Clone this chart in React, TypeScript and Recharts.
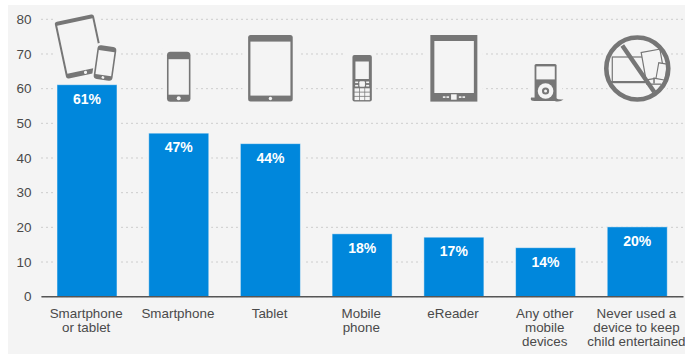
import React from "react";
import { BarChart, Bar, CartesianGrid, LabelList, XAxis, YAxis } from "recharts";

const categories = [
  "Smartphone\nor tablet",
  "Smartphone",
  "Tablet",
  "Mobile\nphone",
  "eReader",
  "Any other\nmobile\ndevices",
  "Never used a\ndevice to keep\nchild entertained",
];
const shares = [61, 47, 44, 18, 17, 14, 20];
const yTicks = [0, 10, 20, 30, 40, 50, 60, 70, 80];
const iconKinds = ["both", "phone", "tablet", "feature", "reader", "player", "none"];

const rows = categories.map((name, i) => ({ name, share: shares[i], icon: iconKinds[i] }));

const PANEL = "#f4f4f4";
const BLUE = "#0087dc";
const ICON = "#767676";
const FONT = "'Liberation Sans', Arial, sans-serif";

function PhoneBody({ w, h }: { w: number; h: number }) {
  // Centred on the origin, used alone and beside the tablet.
  return (
    <g>
      <rect x={-w / 2} y={-h / 2} width={w} height={h} rx={3.5} fill={ICON} />
      <rect x={-w / 2 + 1.6} y={-h / 2 + h * 0.15} width={w - 3.2} height={h * 0.71} fill={PANEL} />
      <circle cx={0} cy={h / 2 - h * 0.07} r={h * 0.04} fill={PANEL} />
    </g>
  );
}

function DeviceIcon({ kind, cx }: { kind: string; cx: number }) {
  if (kind === "both") {
    return (
      <g transform={`translate(${cx} 0)`}>
        <rect x={-34} y={10} width={47} height={15} fill={PANEL} />
        <rect x={-34} y={25} width={65} height={59} fill={PANEL} />
        <g transform="translate(-7 46.5) rotate(-12)">
          <rect x={-20} y={-29} width={40} height={58} rx={2.5} fill={ICON} />
          <rect x={-18} y={-25} width={36} height={49} fill={PANEL} />
          <circle cx={0} cy={26.5} r={1.6} fill={PANEL} />
        </g>
        <g transform="translate(18 63) rotate(8)">
          <rect x={-11} y={-19} width={22} height={38} rx={3} fill={PANEL} />
          <PhoneBody w={19} h={34} />
        </g>
      </g>
    );
  }
  if (kind === "phone") {
    return (
      <g transform={`translate(${cx} 76.7)`}>
        <rect x={-16} y={-28} width={32} height={56} fill={PANEL} />
        <PhoneBody w={23.5} h={50} />
      </g>
    );
  }
  if (kind === "tablet") {
    return (
      <g transform={`translate(${cx} 68.3)`}>
        <rect x={-28} y={-36} width={56} height={72} fill={PANEL} />
        <rect x={-22.3} y={-33.3} width={44.6} height={66.6} rx={2.5} fill={ICON} />
        <rect x={-20} y={-26.7} width={40} height={54} fill={PANEL} />
        <circle cx={0} cy={30.2} r={1.7} fill={PANEL} />
      </g>
    );
  }
  if (kind === "feature") {
    const keys = [0, 1, 2].flatMap((c) => [0, 1, 2].map((r) => [c, r]));
    return (
      <g transform={`translate(${cx} 78.3)`}>
        <rect x={-17} y={-26} width={28} height={52} fill={PANEL} />
        <rect x={-9.7} y={-23.3} width={19.4} height={46.6} rx={2} fill={ICON} />
        <rect x={-6.7} y={-16.8} width={13.4} height={17.5} fill={PANEL} />
        <rect x={-2.8} y={3} width={5.6} height={5.5} rx={1} fill={PANEL} />
        <rect x={-7} y={3.2} width={3} height={1.6} fill={PANEL} />
        <rect x={4} y={3.2} width={3} height={1.6} fill={PANEL} />
        <rect x={-7} y={6.6} width={3} height={1.6} fill={PANEL} />
        <rect x={4} y={6.6} width={3} height={1.6} fill={PANEL} />
        {keys.map(([c, r]) => (
          <rect key={`${c}-${r}`} x={-7.6 + c * 5.3} y={10 + r * 4.2} width={4.6} height={3.4} fill={PANEL} />
        ))}
      </g>
    );
  }
  if (kind === "reader") {
    return (
      <g transform={`translate(${cx} 68.3)`}>
        <rect x={-29} y={-36} width={58} height={72} fill={PANEL} />
        <rect x={-23.5} y={-33.3} width={47} height={66.6} fill={ICON} />
        <rect x={-19.5} y={-27.3} width={39.5} height={52} fill={PANEL} />
        <rect x={-2.8} y={26} width={5.6} height={5.4} fill={PANEL} />
        <rect x={-11} y={28} width={2.6} height={1.6} fill={PANEL} />
        <rect x={-7.4} y={28} width={2.6} height={1.6} fill={PANEL} />
        <rect x={5} y={28} width={2.6} height={1.6} fill={PANEL} />
        <rect x={8.6} y={28} width={2.6} height={1.6} fill={PANEL} />
      </g>
    );
  }
  if (kind === "player") {
    return (
      <g transform={`translate(${cx} 82)`}>
        <rect x={-17.5} y={-16} width={34} height={36} fill={PANEL} />
        <path d="M -14.5 15.5 Q -16 19 -11 19 L 9 19 Q 14 20.5 18 17.5 Q 13 18 10 16 Z" fill={ICON} />
        <rect x={-11} y={-18} width={22} height={36} rx={1.5} fill={ICON} />
        <rect x={-9.2} y={-15.6} width={18.4} height={13} fill={PANEL} />
        <circle cx={0} cy={9} r={7.8} fill={PANEL} />
        <circle cx={0} cy={9} r={3.6} fill={ICON} />
        <circle cx={0} cy={9} r={1.5} fill={PANEL} />
      </g>
    );
  }
  return (
    <g transform={`translate(${cx} 68.5)`}>
      <circle r={36} fill={PANEL} />
      <rect x={-25} y={-11.5} width={33} height={25} fill="none" stroke={ICON} strokeWidth={1.2} />
      <rect x={-27} y={12.5} width={36} height={2.2} fill={ICON} />
      <g transform="rotate(-10 16 -5)">
        <rect x={6} y={-18} width={19} height={28} fill={PANEL} stroke={ICON} strokeWidth={1.2} />
      </g>
      <rect x={16} y={9} width={1.5} height={6} fill={ICON} />
      <rect x={9} y={15} width={15} height={1.3} fill={ICON} />
      <g transform="rotate(10 25 3)">
        <rect x={20} y={-5} width={9} height={16} fill={PANEL} stroke={ICON} strokeWidth={1.1} />
      </g>
      <line x1={-15} y1={-23} x2={17} y2={23.5} stroke={ICON} strokeWidth={4.4} />
      <circle r={31} fill="none" stroke={ICON} strokeWidth={4.6} />
    </g>
  );
}

function IconLabel(props: any) {
  const { x, width, value } = props;
  return <DeviceIcon kind={value} cx={x + width / 2} />;
}

// The pale keyline keeps the dotted rules from touching the bar edges.
function HaloBar(props: any) {
  const { x, y, width, height } = props;
  return (
    <g>
      <rect x={x - 3} y={y} width={width + 6} height={height} fill={PANEL} />
      <rect x={x - 0.5} y={y - 0.5} width={width + 1} height={height + 0.5} fill="#7cc0ec" />
      <rect x={x} y={y} width={width} height={height} fill={BLUE} />
    </g>
  );
}

function CategoryTick(props: any) {
  const { x, y, payload } = props;
  const lines = String(payload.value).split("\n");
  const labelX = x - 1.2;
  return (
    <text x={labelX} y={y} textAnchor="middle" fontFamily={FONT} fontSize={13.4} fill="#4a4a4a">
      {lines.map((line, i) => (
        <tspan key={line} x={labelX} dy={i === 0 ? 0 : 14.3}>
          {line}
        </tspan>
      ))}
    </text>
  );
}

export default function App() {
  return (
    <div style={{ position: "absolute", left: 0, top: 0, width: 685, height: 354, overflow: "hidden", background: "#fff" }}>
      <div style={{ position: "absolute", left: 8, top: 5, right: 0, bottom: 0, background: PANEL }} />
      <div style={{ position: "absolute", left: 0, top: 0 }}>
        <BarChart
          width={685}
          height={354}
          data={rows}
          margin={{ top: 19.3, right: 1.5, bottom: 0, left: 0.5 }}
          barCategoryGap={0}
        >
          <CartesianGrid vertical={false} stroke="#a6a6a6" strokeDasharray="1 4" />
          <XAxis
            dataKey="name"
            interval={0}
            height={57.3}
            tick={<CategoryTick />}
            tickLine={false}
            tickMargin={15}
            axisLine={{ stroke: "#555", strokeWidth: 1.5 }}
          />
          <YAxis
            domain={[0, 80]}
            ticks={yTicks}
            width={41}
            axisLine={false}
            tickLine={false}
            tickMargin={4}
            tick={{ fontFamily: FONT, fontSize: 13.5, fill: "#4a4a4a" }}
          />
          <Bar dataKey="share" barSize={59} fill={BLUE} shape={<HaloBar />} isAnimationActive={false}>
            <LabelList dataKey="icon" content={<IconLabel />} />
            <LabelList
              dataKey="share"
              position="insideTop"
              offset={8.5}
              formatter={(v: any) => `${v}%`}
              fill="#fff"
              style={{ fontFamily: FONT, fontSize: 14, fontWeight: 700 }}
            />
          </Bar>
        </BarChart>
      </div>
    </div>
  );
}
